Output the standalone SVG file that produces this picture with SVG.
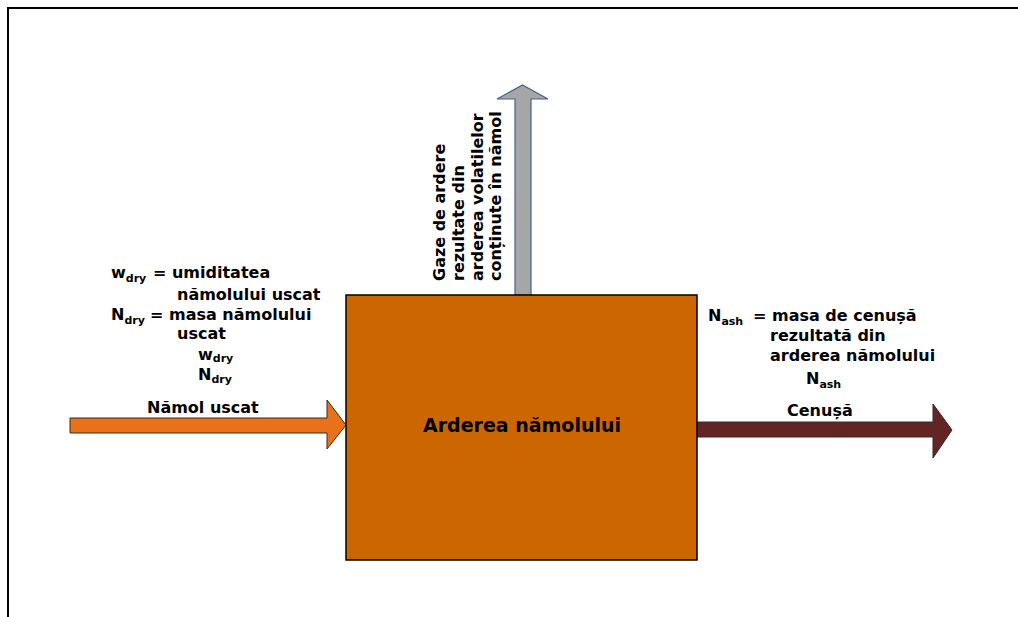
<svg xmlns="http://www.w3.org/2000/svg" width="1018" height="617" viewBox="0 0 1018 617">
  <style>
    .t { font-family: "DejaVu Sans", Verdana, sans-serif; font-weight: bold; font-size: 16px; fill: #000; }
    .sub { font-size: 11px; }
    .title { font-size: 19px; }
  </style>
  <rect width="1018" height="617" fill="#fff"/>
  <!-- frame -->
  <path d="M8,617 V8 H1018" fill="none" stroke="#000" stroke-width="2"/>

  <!-- flows -->
  <g id="connectors">
    <!-- input: dried sludge -->
    <path d="M70,418 H327 V400 L346,425 L327,449 V433 H70 Z" fill="#E8711A" stroke="#3a2a1a" stroke-width="1"/>
    <!-- output: ash -->
    <path d="M697,422 H933 V404 L952,430 L933,458 V437 H697 Z" fill="#632523" stroke="#3a2a2a" stroke-width="1"/>
    <!-- output: flue gases -->
    <path d="M515,295 V99 H497 L522.5,85 L548,99 H531 V295 Z" fill="#A6A6A6" stroke="#41628F" stroke-width="1.2"/>
  </g>

  <!-- combustion unit -->
  <g id="incinerator">
    <rect x="346" y="295" width="351" height="265" fill="#CC6600" stroke="#000" stroke-width="1.5"/>
    <text class="t title" x="522" y="432" text-anchor="middle">Arderea nămolului</text>
  </g>

  <!-- input labels -->
  <g id="input-labels">
    <text class="t" x="111" y="278">w<tspan class="sub" dy="4">dry</tspan></text>
    <text class="t" x="153" y="278">= umiditatea</text>
    <text class="t" x="177" y="300">nămolului uscat</text>
    <text class="t" x="111" y="320">N<tspan class="sub" dy="4">dry</tspan></text>
    <text class="t" x="150" y="320">= masa nămolului</text>
    <text class="t" x="177" y="339">uscat</text>
    <text class="t" x="198" y="360">w<tspan class="sub" dy="2">dry</tspan></text>
    <text class="t" x="198" y="380">N<tspan class="sub" dy="3">dry</tspan></text>
    <text class="t" x="147" y="413">Nămol uscat</text>
  </g>

  <!-- ash labels -->
  <g id="ash-labels">
    <text class="t" x="708" y="321">N<tspan class="sub" dy="4">ash</tspan></text>
    <text class="t" x="753" y="321">= masa de cenușă</text>
    <text class="t" x="770" y="341">rezultată din</text>
    <text class="t" x="770" y="361">arderea nămolului</text>
    <text class="t" x="806" y="384">N<tspan class="sub" dy="4">ash</tspan></text>
    <text class="t" x="787" y="416">Cenușă</text>
  </g>

  <!-- flue gas label -->
  <g id="gas-labels">
    <text class="t" transform="translate(445,281) rotate(-90)">Gaze de ardere</text>
    <text class="t" transform="translate(464,281) rotate(-90)">rezultate din</text>
    <text class="t" transform="translate(483,281) rotate(-90)">arderea volatilelor</text>
    <text class="t" transform="translate(501,281) rotate(-90)">conținute în nămol</text>
  </g>
</svg>
